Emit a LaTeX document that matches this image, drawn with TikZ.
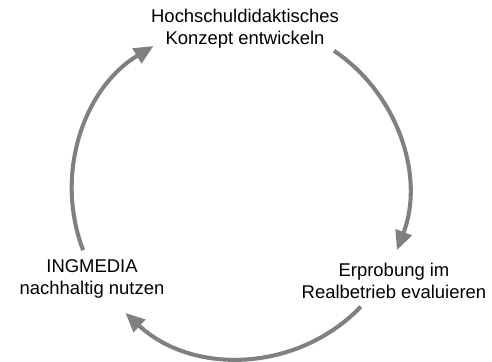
\documentclass[tikz,border=0pt]{standalone}
\usepackage{fontspec}
\setmainfont{Liberation Sans}
\usetikzlibrary{arrows.meta}

\tikzset{
    cyc/.style={line width=2.3pt,draw=black!50,
        -{Triangle[width=9.5pt,length=11pt]}},
    step label/.style={align=center,inner sep=1pt,
        font=\fontsize{10.5}{12.6}\selectfont}
}

\begin{document}
\begin{tikzpicture}[x=0.02cm,y=0.02cm]
    \useasboundingbox (0,0) rectangle (492,361);

    % Mittelpunkt des Zyklus.
    \coordinate (mid) at (240,171);

    \node[step label] (konzept) at (245,332)
        {Hochschuldidaktisches\\Konzept entwickeln};
    \node[step label] (erprobung) at (394,80)
        {Erprobung im\\Realbetrieb evaluieren};
    \node[step label] (nutzen) at (92,82)
        {INGMEDIA\\nachhaltig nutzen};

    % Pfeile auf dem Kreis.
    \draw[cyc] ([shift={(56:168)}]mid) arc[start angle=56,end angle=-21,radius=168];
    \draw[cyc] ([shift={(-44:168)}]mid) arc[start angle=-44,end angle=-133,radius=168];
    \draw[cyc] ([shift={(-159:168)}]mid) arc[start angle=-159,end angle=-239,radius=168];
\end{tikzpicture}
\end{document}
